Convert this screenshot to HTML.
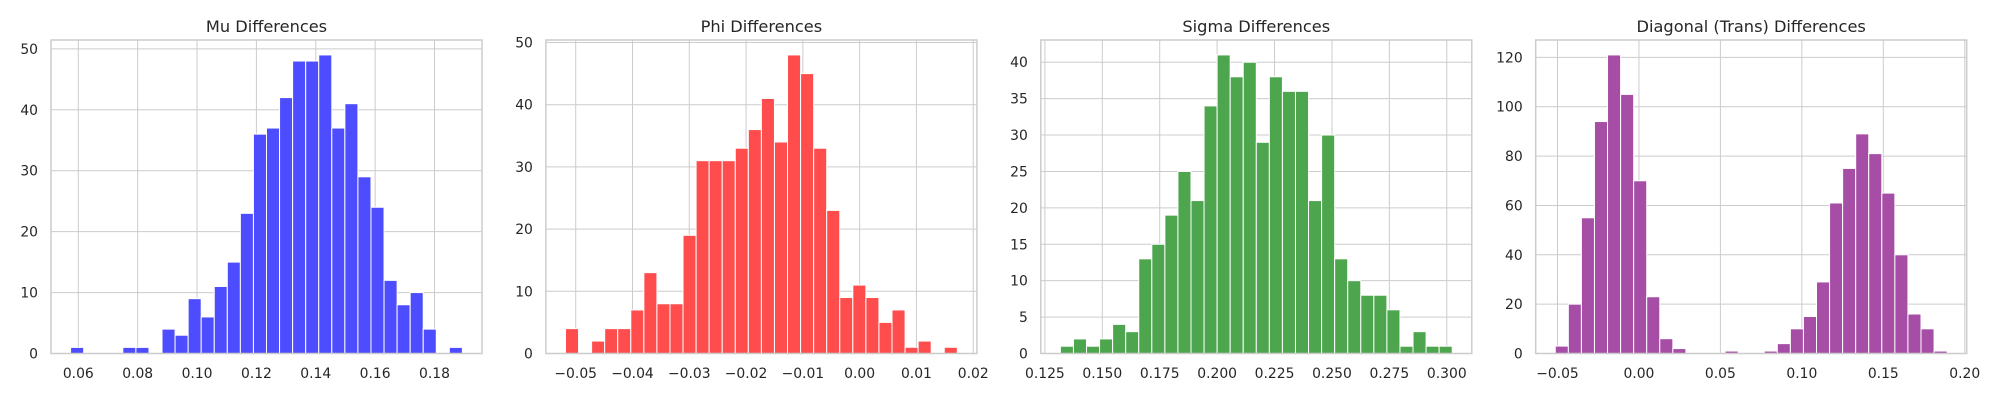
<!DOCTYPE html>
<html><head><meta charset="utf-8"><style>
body{margin:0;background:#fff;}
svg text{font-family:"DejaVu Sans","Liberation Sans",sans-serif;fill:#262626;}
</style></head><body>
<svg id="chart" width="2000" height="400" xmlns="http://www.w3.org/2000/svg"></svg>
<script>
const titles = ["Mu Differences","Phi Differences","Sigma Differences","Diagonal (Trans) Differences"];
const muCounts = [1,0,0,0,1,1,0,4,3,9,6,11,15,23,36,37,42,48,48,49,37,41,29,24,12,8,10,4,0,1];
const phiCounts = [4,0,2,4,4,7,13,8,8,19,31,31,31,33,36,41,34,48,45,33,23,9,11,9,5,7,1,2,0,1];
const sigmaCounts = [1,2,1,2,4,3,13,15,19,25,21,34,41,38,40,29,38,36,36,21,30,13,10,8,8,6,1,3,1,1];
const diagCounts = [3,20,55,94,121,105,70,23,6,2,0,0,0,1,0,0,1,4,10,15,29,61,75,89,81,65,40,16,10,1];
const binStarts = [0.0574,-0.0518,0.13175,-0.05135];
const binWidths = [0.0044,0.0023,0.005687,0.008017];
const muXTicks = [0.06,0.08,0.10,0.12,0.14,0.16,0.18];
const phiXTicks = [-0.05,-0.04,-0.03,-0.02,-0.01,0.00,0.01,0.02];
const sigmaXTicks = [0.125,0.150,0.175,0.200,0.225,0.250,0.275,0.300];
const diagXTicks = [-0.05,0.00,0.05,0.10,0.15,0.20];
const muYTicks = [0,10,20,30,40,50];
const phiYTicks = [0,10,20,30,40,50];
const sigmaYTicks = [0,5,10,15,20,25,30,35,40];
const diagYTicks = [0,20,40,60,80,100,120];
const xDecimals = [2,2,3,2];

const NS="http://www.w3.org/2000/svg";
const svg=document.getElementById('chart');
const colors=["rgb(77,77,255)","rgb(255,77,77)","rgb(77,166,77)","rgb(166,77,166)"];
const lefts=[51,545.9,1040.8,1535.7];
const W=431, TOP=40, BOT=353.5;
const allCounts=[muCounts,phiCounts,sigmaCounts,diagCounts];
const allX=[muXTicks,phiXTicks,sigmaXTicks,diagXTicks];
const allY=[muYTicks,phiYTicks,sigmaYTicks,diagYTicks];
const names=["mu","phi","sigma","diagonal"];
function mk(tag,attrs){const e=document.createElementNS(NS,tag);for(const k in attrs)e.setAttribute(k,attrs[k]);return e;}
function fmt(v,d){const s=Math.abs(v).toFixed(d);return (v<-1e-9?"\u2212":"")+s;}
for(let p=0;p<4;p++){
  const counts=allCounts[p];
  const g=mk('g',{});
  
  
  svg.appendChild(g);
  const x0=binStarts[p], bw=binWidths[p], n=counts.length;
  const x1=x0+bw*n, pad=(x1-x0)*0.05;
  const xmin=x0-pad, xmax=x1+pad;
  const ymax=Math.max(...counts)*1.05;
  const L=lefts[p];
  const sx=v=>L+(v-xmin)/(xmax-xmin)*W;
  const sy=v=>BOT-v/ymax*(BOT-TOP);
  // grid
  for(const t of allY[p]){
    const ln=mk('line',{x1:L,x2:L+W,y1:sy(t),y2:sy(t),stroke:'#cccccc','stroke-width':1});
    
    
    g.appendChild(ln);
    const tx=mk('text',{x:L-13,y:sy(t)+5,'text-anchor':'end','font-size':'13.9px'});
    tx.textContent=String(t);
    
    
    g.appendChild(tx);
  }
  for(const t of allX[p]){
    const ln=mk('line',{x1:sx(t),x2:sx(t),y1:TOP,y2:BOT,stroke:'#cccccc','stroke-width':1});
    
    
    g.appendChild(ln);
    const tx=mk('text',{x:sx(t),y:378,'text-anchor':'middle','font-size':'13.9px'});
    tx.textContent=fmt(t,xDecimals[p]);
    
    
    g.appendChild(tx);
  }
  // bars
  for(let i=0;i<n;i++){
    if(counts[i]<=0)continue;
    const a=sx(x0+i*bw), b=sx(x0+(i+1)*bw);
    const r=mk('rect',{x:a,y:sy(counts[i]),width:b-a,height:BOT-sy(counts[i]),fill:colors[p],stroke:'#ffffff','stroke-width':1});
    
    
    g.appendChild(r);
  }
  const fr=mk('rect',{x:L,y:TOP,width:W,height:BOT-TOP,fill:'none',stroke:'#cccccc','stroke-width':1.5});
  
  
  g.appendChild(fr);
  const tt=mk('text',{x:L+W/2,y:32,'text-anchor':'middle','font-size':'16.2px'});
  tt.textContent=titles[p];
  
  
  g.appendChild(tt);
}
</script>
</body></html>
